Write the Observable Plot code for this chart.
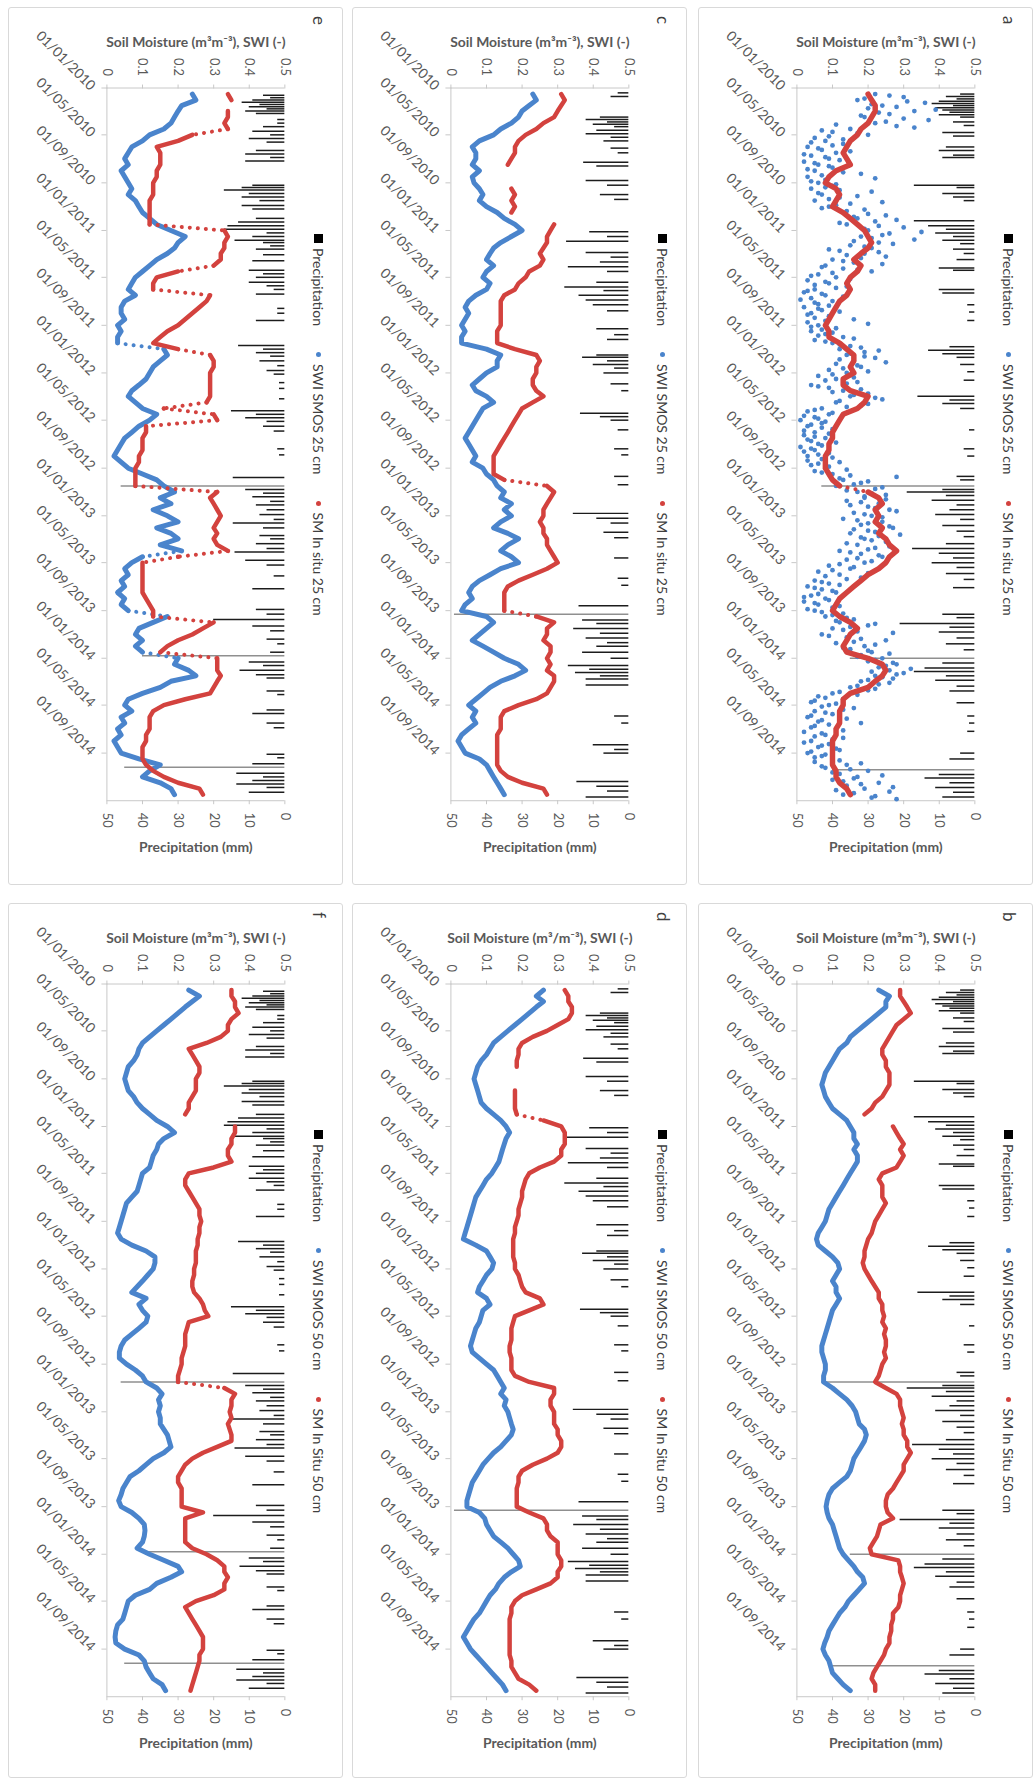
<!DOCTYPE html>
<html><head><meta charset="utf-8">
<script src="https://cdn.jsdelivr.net/npm/d3@7"></script>
<script src="https://cdn.jsdelivr.net/npm/@observablehq/plot@0.6"></script>
<style>
body{margin:0;background:#fff;font-family:Lato,"Open Sans",sans-serif}
#page{position:relative;width:1035px;height:1780px;overflow:hidden;background:#fff}
.panel{position:absolute;width:335px;height:878px;border:1px solid #d9d9d9;border-radius:3px;box-sizing:border-box;background:#fff}
.panel svg{position:absolute;left:-1px;top:-1px;overflow:visible}
.legend{position:absolute;transform:rotate(90deg);transform-origin:0 0;white-space:nowrap;display:flex;align-items:center;height:18px;font-size:14px;color:#404040}
.legend .sq{display:inline-block;width:9px;height:9px;background:#000;margin-right:5px}
.legend .dt{display:inline-block;width:5px;height:5px;border-radius:50%;margin-left:26px;margin-right:7px}
.letter{position:absolute;transform:rotate(90deg);transform-origin:0 0;font-size:17px;color:#404040;line-height:18px}
</style></head><body><div id="page"></div>
<script>
// ---------- data (months since 01/01/2010, semi-monthly grid t = 0, 0.5, ... 59.5) ----------
const eSWI = [null,0.24,0.25,0.21,0.2,0.19,0.18,0.16,0.12,0.1,0.07,0.06,
0.05,0.06,0.04,0.05,0.06,0.07,0.06,0.08,0.09,0.1,0.12,0.14,
0.18,0.22,0.2,0.19,0.17,0.14,0.12,0.1,0.08,0.07,0.06,0.08,
0.05,0.04,0.04,0.05,0.03,0.04,0.03,0.03,0.16,0.17,0.15,0.13,
0.12,0.11,0.09,0.07,0.06,0.08,0.1,0.14,0.12,0.09,0.07,0.05,
0.04,0.03,0.02,0.04,0.06,0.1,0.14,0.16,0.19,0.15,0.18,0.13,
0.17,0.2,0.14,0.18,0.2,0.15,0.21,0.1,0.07,0.05,0.06,0.04,
0.05,0.03,0.05,0.04,0.06,0.17,0.13,0.09,0.08,0.1,0.08,0.1,
0.2,0.19,0.23,0.25,0.18,0.15,0.1,0.06,0.05,0.07,0.04,0.05,
0.03,0.04,0.02,0.03,0.04,0.09,0.15,0.12,0.1,0.15,0.18,0.19];
const eSM = [null,0.34,0.35,null,0.34,0.34,0.33,0.34,0.24,0.2,0.14,0.15,
0.15,0.15,0.14,0.14,0.13,0.13,0.13,0.12,0.12,0.12,0.12,0.12,
0.33,0.34,0.33,0.33,0.32,0.32,0.3,0.2,0.14,0.13,0.13,0.29,
0.28,0.26,0.24,0.22,0.2,0.17,0.15,0.13,0.2,0.29,0.3,0.3,
0.29,0.29,0.29,0.29,0.29,0.28,0.16,0.3,0.31,0.11,0.11,0.1,
0.1,0.1,0.09,0.09,0.08,0.08,0.08,0.08,0.31,0.29,0.3,0.31,
0.32,0.31,0.3,0.31,0.3,0.31,0.34,0.2,0.1,0.1,0.1,0.1,
0.1,0.1,0.11,0.12,0.13,0.13,0.3,0.27,0.24,0.2,0.17,0.15,
0.31,0.31,0.31,0.32,0.31,0.3,0.29,0.22,0.16,0.13,0.12,0.12,
0.12,0.11,0.11,0.1,0.1,0.1,0.11,0.13,0.16,0.2,0.26,0.27];
const cSWI = [null,0.23,0.24,0.22,0.2,0.19,0.17,0.14,0.12,0.08,0.06,0.07,
0.07,0.06,0.08,0.06,0.065,0.08,0.09,0.08,0.1,0.13,0.15,0.18,
0.2,0.17,0.14,0.12,0.11,0.1,0.12,0.1,0.09,0.11,0.1,0.07,
0.05,0.04,0.05,0.04,0.03,0.04,0.03,0.03,0.1,0.14,0.13,0.13,
0.1,0.08,0.06,0.07,0.1,0.12,0.09,0.08,0.07,0.06,0.05,0.04,
0.05,0.06,0.07,0.06,0.09,0.1,0.12,0.13,0.15,0.14,0.17,0.15,
0.17,0.14,0.12,0.16,0.19,0.16,0.14,0.17,0.19,0.14,0.11,0.08,
0.06,0.05,0.06,0.04,0.03,0.1,0.12,0.1,0.08,0.06,0.09,0.12,
0.15,0.19,0.21,0.18,0.14,0.11,0.09,0.07,0.05,0.07,0.06,0.07,
0.05,0.03,0.02,0.03,0.04,0.08,0.1,0.11,0.12,0.13,0.14,0.15];
const cSM = [null,0.31,0.32,0.31,0.3,0.29,0.26,0.24,0.21,0.19,0.18,0.18,
0.17,0.16,null,null,null,0.17,0.18,0.17,0.18,0.17,null,0.29,
0.28,0.27,0.27,0.26,0.25,0.26,0.25,0.22,0.21,0.19,0.18,0.15,
0.14,0.14,0.14,0.14,0.14,0.13,0.13,0.13,0.18,0.24,0.25,0.24,
0.24,0.23,0.23,0.24,0.26,0.23,0.2,0.19,0.18,0.17,0.16,0.15,
0.14,0.13,0.12,0.12,0.12,0.12,0.15,0.27,0.29,0.28,0.27,0.26,
0.26,0.25,0.26,0.26,0.27,0.27,0.28,0.29,0.3,0.27,0.23,0.19,
0.16,0.15,0.15,0.15,0.15,0.24,0.29,0.27,0.27,0.26,0.28,0.28,
0.27,0.28,0.27,0.29,0.29,0.28,0.27,0.24,0.19,0.15,0.14,0.14,
0.14,0.13,0.13,0.13,0.13,0.13,0.13,0.14,0.16,0.2,0.26,0.27];
const aSM = [null,0.2,0.21,0.22,0.22,0.21,0.2,0.18,0.17,0.15,0.14,0.13,
0.14,0.15,0.11,0.09,0.08,0.11,0.12,0.11,0.1,0.13,0.15,0.17,
0.19,0.2,0.21,0.2,0.18,0.16,0.18,0.17,0.15,0.14,0.15,0.14,
0.12,0.11,0.1,0.09,0.08,0.09,0.09,0.12,0.14,0.16,0.16,0.15,
0.16,0.13,0.13,0.15,0.2,0.19,0.17,0.13,0.12,0.11,0.1,0.1,
0.09,0.09,0.08,0.08,0.08,0.09,0.1,0.12,0.2,0.23,0.24,0.22,
0.23,0.22,0.24,0.23,0.25,0.26,0.28,0.26,0.25,0.23,0.2,0.18,
0.16,0.14,0.12,0.11,0.1,0.12,0.15,0.17,0.15,0.14,0.13,0.14,
0.2,0.24,0.25,0.24,0.22,0.2,0.15,0.13,0.13,0.12,0.12,0.12,
0.11,0.11,0.1,0.1,0.1,0.1,0.1,0.11,0.11,0.12,0.14,0.15];
// panel a SWI is scattered: two sets of weekly readings, t = 0.5, 0.75, ... and t = 0.625, 0.875, ...
const aSWIdots = [0.22,0.3,0.17,0.36,0.24,0.2,0.33,0.26,
0.19,0.37,0.22,0.28,0.15,0.1,0.2,0.05,
0.08,0.13,0.03,0.07,0.11,0.04,0.09,0.02,
0.06,0.1,0.05,0.18,0.03,0.08,0.06,0.1,
0.04,0.21,0.07,0.12,0.05,0.15,0.09,0.19,
0.13,0.25,0.17,0.22,0.14,0.3,0.2,0.26,
0.18,0.33,0.23,0.15,0.21,0.12,0.19,0.25,
0.1,0.16,0.08,0.13,0.21,0.06,0.11,0.03,
0.09,0.14,0.05,0.02,0.08,0.04,0.1,0.06,
0.02,0.07,0.04,0.09,0.16,0.03,0.06,0.11,
0.04,0.08,0.13,0.05,0.1,0.15,0.12,0.19,
0.14,0.22,0.16,0.11,0.18,0.09,0.14,0.06,
0.11,0.17,0.04,0.09,0.13,0.2,0.15,0.24,
0.11,0.18,0.07,0.03,0.09,0.05,0.01,0.07,
0.03,0.1,0.05,0.02,0.08,0.04,0.06,0.01,
0.05,0.09,0.03,0.07,0.12,0.04,0.08,0.05,
0.1,0.28,0.13,0.18,0.11,0.22,0.17,0.25,
0.19,0.14,0.23,0.2,0.26,0.16,0.21,0.13,
0.24,0.18,0.27,0.2,0.15,0.23,0.19,0.25,
0.17,0.22,0.12,0.18,0.24,0.14,0.19,0.09,
0.15,0.06,0.12,0.18,0.05,0.09,0.03,0.07,
0.11,0.04,0.08,0.02,0.06,0.1,0.05,0.13,
0.08,0.16,0.12,0.2,0.1,0.17,0.07,0.14,
0.25,0.11,0.19,0.15,0.21,0.18,0.24,0.2,
0.28,0.23,0.26,0.3,0.22,0.27,0.18,0.23,
0.15,0.2,0.1,0.06,0.13,0.04,0.09,0.16,
0.05,0.1,0.03,0.07,0.18,0.05,0.11,0.02,
0.08,0.13,0.04,0.09,0.06,0.12,0.03,0.07,
0.1,0.05,0.14,0.08,0.2,0.12,0.17,0.1,
0.23,0.14,0.19,0.26,0.13,0.21];
const aSWIdots2 = [0.26,0.19,0.31,0.21,0.28,0.39,0.23,0.18,
0.3,0.25,0.11,0.33,0.07,0.17,0.09,0.13,
0.04,0.1,0.06,0.15,0.02,0.08,0.12,0.05,
0.09,0.03,0.13,0.07,0.22,0.04,0.11,0.08,
0.12,0.06,0.17,0.09,0.24,0.11,0.07,0.14,
0.2,0.16,0.28,0.12,0.23,0.19,0.35,0.24,
0.21,0.16,0.27,0.19,0.09,0.23,0.14,0.18,
0.13,0.24,0.07,0.17,0.1,0.04,0.15,0.08,
0.05,0.11,0.03,0.07,0.13,0.01,0.05,0.09,
0.06,0.12,0.03,0.05,0.08,0.2,0.04,0.07,
0.1,0.06,0.16,0.08,0.12,0.18,0.23,0.15,
0.19,0.12,0.25,0.17,0.13,0.2,0.1,0.16,
0.08,0.14,0.06,0.18,0.1,0.16,0.22,0.12,
0.2,0.14,0.05,0.1,0.02,0.06,0.08,0.04,
0.07,0.02,0.09,0.05,0.03,0.11,0.07,0.04,
0.02,0.06,0.1,0.03,0.06,0.09,0.14,0.07,
0.15,0.12,0.2,0.16,0.24,0.14,0.21,0.19,
0.25,0.18,0.15,0.22,0.28,0.19,0.24,0.17,
0.2,0.26,0.16,0.22,0.29,0.18,0.21,0.14,
0.26,0.2,0.15,0.23,0.17,0.21,0.12,0.16,
0.1,0.2,0.08,0.14,0.07,0.12,0.05,0.1,
0.06,0.02,0.09,0.05,0.12,0.03,0.07,0.1,
0.14,0.11,0.22,0.15,0.13,0.27,0.09,0.18,
0.16,0.22,0.13,0.2,0.26,0.17,0.22,0.27,
0.25,0.32,0.21,0.28,0.24,0.2,0.26,0.17,
0.22,0.12,0.17,0.08,0.05,0.11,0.07,0.13,
0.08,0.04,0.14,0.06,0.09,0.04,0.13,0.07,
0.05,0.1,0.02,0.07,0.11,0.04,0.08,0.05,
0.12,0.18,0.07,0.15,0.1,0.24,0.16,0.13,
0.18,0.27,0.11,0.16,0.22,0.28];
const bSWI = [null,0.23,0.26,0.25,0.25,0.23,0.21,0.19,0.17,0.15,0.14,0.12,
0.11,0.1,0.09,0.08,0.075,0.07,0.075,0.08,0.09,0.1,0.12,0.14,
0.15,0.16,0.16,0.17,0.16,0.17,0.17,0.16,0.15,0.14,0.13,0.12,
0.11,0.1,0.09,0.085,0.08,0.07,0.06,0.055,0.06,0.08,0.1,0.115,
0.12,0.11,0.1,0.11,0.11,0.12,0.11,0.1,0.095,0.09,0.085,0.08,
0.075,0.07,0.07,0.075,0.08,0.08,0.075,0.075,0.1,0.12,0.14,0.155,
0.165,0.17,0.175,0.19,0.195,0.19,0.18,0.17,0.16,0.155,0.15,0.14,
0.12,0.1,0.09,0.085,0.082,0.085,0.09,0.1,0.105,0.11,0.115,0.12,
0.13,0.145,0.16,0.17,0.185,0.19,0.175,0.16,0.145,0.135,0.12,0.11,
0.1,0.09,0.085,0.078,0.073,0.08,0.09,0.095,0.1,0.115,0.13,0.15];
const bSM = [null,0.29,0.29,0.3,0.31,0.32,0.3,0.28,0.27,0.26,0.25,0.24,
0.24,0.25,0.25,0.26,0.26,0.26,0.25,0.24,0.22,0.21,0.19,null,
0.27,0.28,0.29,0.3,0.29,0.3,0.29,0.28,0.24,0.23,0.24,0.24,
0.24,0.25,0.24,0.23,0.22,0.215,0.21,0.2,0.195,0.19,0.19,0.185,
0.19,0.2,0.21,0.22,0.23,0.23,0.24,0.24,0.245,0.24,0.25,0.245,
0.25,0.25,0.245,0.25,0.24,0.235,0.23,0.22,0.25,0.28,0.29,0.29,
0.295,0.3,0.295,0.3,0.3,0.31,0.31,0.32,0.31,0.3,0.3,0.29,
0.28,0.27,0.255,0.25,0.25,0.255,0.27,0.235,0.23,0.225,0.215,0.205,
0.21,0.285,0.29,0.29,0.295,0.3,0.295,0.29,0.29,0.285,0.27,0.27,
0.265,0.265,0.26,0.26,0.25,0.245,0.235,0.225,0.215,0.21,0.22,0.22];
const dSWI = [null,0.26,0.24,0.26,0.24,0.22,0.2,0.18,0.16,0.14,0.12,0.11,
0.1,0.085,0.075,0.07,0.065,0.07,0.075,0.08,0.085,0.1,0.12,0.14,
0.155,0.165,0.155,0.15,0.145,0.14,0.135,0.125,0.115,0.1,0.09,0.08,
0.07,0.065,0.06,0.055,0.05,0.045,0.04,0.035,0.07,0.1,0.11,0.12,
0.115,0.1,0.09,0.08,0.075,0.1,0.11,0.09,0.085,0.08,0.07,0.065,
0.06,0.055,0.06,0.08,0.1,0.12,0.13,0.14,0.15,0.14,0.155,0.15,
0.16,0.165,0.17,0.175,0.17,0.155,0.14,0.12,0.105,0.09,0.08,0.07,
0.06,0.055,0.05,0.045,0.045,0.08,0.095,0.1,0.11,0.12,0.14,0.16,
0.175,0.19,0.195,0.17,0.15,0.135,0.125,0.11,0.1,0.09,0.08,0.065,
0.055,0.045,0.035,0.045,0.055,0.07,0.085,0.1,0.115,0.13,0.145,0.155];
const dSM = [null,0.32,0.33,0.33,0.34,0.34,0.33,0.3,0.27,0.23,0.2,0.19,
0.19,0.185,0.185,null,null,null,0.18,0.18,0.18,0.18,0.185,0.26,
0.31,0.32,0.32,0.32,0.31,0.31,0.29,0.25,0.22,0.21,0.205,0.2,
0.2,0.195,0.19,0.19,0.185,0.18,0.18,0.175,0.175,0.175,0.175,0.18,
0.18,0.19,0.195,0.2,0.21,0.25,0.26,0.22,0.18,0.175,0.17,0.17,
0.17,0.165,0.165,0.17,0.17,0.17,0.18,0.22,0.29,0.29,0.28,0.28,
0.29,0.29,0.29,0.3,0.3,0.31,0.31,0.3,0.27,0.23,0.2,0.19,
0.19,0.185,0.185,0.185,0.185,0.22,0.26,0.27,0.27,0.28,0.3,0.3,
0.3,0.31,0.31,0.3,0.3,0.28,0.24,0.2,0.18,0.17,0.17,0.165,
0.165,0.165,0.165,0.165,0.165,0.165,0.17,0.17,0.18,0.19,0.22,0.24];
const fSWI = [null,0.23,0.26,0.24,0.22,0.2,0.18,0.16,0.14,0.12,0.1,0.09,
0.085,0.075,0.06,0.055,0.05,0.055,0.06,0.075,0.085,0.1,0.12,0.14,
0.17,0.19,0.16,0.145,0.14,0.13,0.125,0.12,0.1,0.095,0.09,0.085,
0.07,0.055,0.05,0.045,0.04,0.035,0.03,0.04,0.07,0.11,0.135,0.135,
0.13,0.115,0.1,0.085,0.07,0.11,0.09,0.1,0.115,0.11,0.09,0.07,
0.05,0.04,0.035,0.035,0.055,0.08,0.1,0.11,0.14,0.155,0.145,0.15,
0.145,0.15,0.15,0.16,0.17,0.175,0.18,0.16,0.13,0.11,0.09,0.065,
0.055,0.045,0.04,0.033,0.04,0.07,0.09,0.105,0.107,0.105,0.1,0.085,
0.12,0.16,0.2,0.21,0.18,0.14,0.12,0.08,0.06,0.055,0.05,0.045,
0.03,0.025,0.023,0.025,0.05,0.09,0.105,0.11,0.12,0.13,0.155,0.165];
const fSM = [null,0.35,0.35,0.36,0.36,0.37,0.35,0.34,0.34,0.32,0.28,0.23,
0.24,0.25,0.26,0.26,0.25,0.25,0.25,0.24,0.23,0.23,0.22,null,
0.36,0.36,0.35,0.35,0.34,0.34,0.35,0.3,0.23,0.22,0.22,0.23,
0.24,0.25,0.26,0.26,0.265,0.26,0.26,0.255,0.255,0.25,0.25,0.25,
0.245,0.245,0.24,0.24,0.245,0.26,0.27,0.275,0.285,0.23,0.225,0.22,
0.22,0.22,0.215,0.21,0.21,0.205,0.2,0.2,0.33,0.36,0.35,0.35,
0.345,0.35,0.34,0.345,0.35,0.35,0.31,0.27,0.24,0.22,0.21,0.2,
0.2,0.21,0.21,0.21,0.21,0.27,0.22,0.22,0.22,0.22,0.22,0.24,
0.28,0.31,0.33,0.33,0.34,0.33,0.33,0.3,0.25,0.22,0.23,0.24,
0.25,0.26,0.27,0.27,0.27,0.26,0.26,0.255,0.25,0.245,0.24,0.235];
// precipitation events: [months since 01/01/2010, mm]
const precipAB = [[0.5,4],[0.7,8],[0.9,5],[1.1,10],[1.3,12],[1.5,6],[1.7,11],[1.9,9],[2.1,7],[2.3,10],[2.5,4],[2.9,6],[3.2,3],[3.8,9],[4.1,6],[5.0,8],[5.3,10],[5.7,6],[5.9,9],[8.2,17],[8.4,5],[8.9,9],[9.2,6],[9.5,3],[11.2,17],[11.6,13],[11.9,8],[12.2,11],[12.5,6],[12.8,9],[13.1,4],[13.6,6],[14.0,3],[14.5,5],[15.2,10],[15.4,6],[17.0,10],[17.3,9],[18.3,2],[18.9,1.5],[19.6,2],[21.8,7],[22.1,13],[22.4,9],[22.7,5],[23.3,4],[23.9,2],[24.6,3],[26.0,16],[26.3,7],[26.6,9],[27.0,4],[28.8,1.5],[30.4,3],[31.0,2],[32.7,5],[33.0,4],[33.5,43],[33.8,9],[34.0,19],[34.3,8],[34.7,12],[35.1,5],[35.5,7],[35.9,11],[36.3,4],[36.8,9],[37.3,5],[37.8,3],[38.4,8],[38.8,17.5],[39.2,10],[39.6,6],[40.0,12],[40.4,5],[40.9,8],[41.4,3],[42.1,6],[44.3,9],[44.6,5],[45.1,21],[45.4,7],[45.8,10],[46.3,5],[46.8,8],[47.3,3],[48.0,35],[48.4,9],[48.8,14],[49.1,17],[49.5,8],[49.9,11],[50.4,5],[50.8,7],[51.8,5],[52.9,2],[53.5,1.5],[54.2,2],[56.0,4],[56.5,7],[57.4,40],[57.8,10],[58.1,14],[58.5,7],[58.9,11],[59.3,6],[59.7,9]];
const precipCD = [[0.4,3],[0.7,5],[2.5,8],[2.7,12],[2.9,6],[3.1,10],[3.3,4],[3.6,9],[3.9,12],[4.2,5],[4.5,7],[5.1,5],[5.5,3],[6.3,12.7],[6.6,9],[7.8,12],[8.2,6],[9.0,8],[9.4,4],[12.1,11],[12.5,6],[12.9,17.5],[13.9,12],[14.3,5],[14.7,8],[15.1,17],[15.5,6],[16.4,9],[16.8,18],[17.1,7],[17.5,14],[17.9,12],[18.3,10],[18.8,6],[20.3,9],[20.8,4],[21.2,6],[22.5,9],[22.7,13],[23.0,6],[23.3,10],[23.6,4],[24.0,7],[24.9,5],[25.5,2],[27.4,13.6],[27.7,8],[28.0,5],[28.8,3],[30.4,4],[30.9,2],[32.7,4],[33.4,3],[35.8,15.6],[36.2,9],[36.6,5],[37.4,7],[37.9,4],[39.6,4],[41.3,3],[41.9,2],[43.6,14],[44.3,49],[44.8,13],[45.1,9],[45.5,15.5],[45.9,8],[46.3,12],[46.7,6],[47.0,9],[47.5,13],[48.0,5],[48.6,17],[48.9,11],[49.2,15],[49.5,8],[49.8,12],[50.3,12],[52.9,4],[53.5,2],[55.3,10],[55.7,4],[56.0,7],[58.4,14.6],[58.8,9],[59.2,6],[59.7,12]];
const precipEF = [[0.6,6],[0.8,4],[1.0,9],[1.2,12],[1.4,7],[1.6,10],[1.8,5],[2.0,11],[2.2,8],[2.7,2],[3.0,2],[3.3,6],[3.7,9],[4.0,4],[4.3,10],[4.6,5],[5.3,8],[5.6,11],[5.9,4],[6.2,11],[8.2,9],[8.4,12],[8.6,17],[8.9,10],[9.2,12],[9.5,7],[9.9,12],[10.2,9],[11.0,8],[11.3,13],[11.6,16],[11.9,17],[12.2,5],[12.5,9],[12.8,14],[13.0,6],[13.3,4],[13.6,8],[14.1,6],[14.6,9],[15.4,10],[15.7,6],[16.0,8],[16.4,10],[16.7,5],[17.0,3],[17.4,8],[18.6,2],[19.0,2],[19.6,8],[21.7,13],[22.0,6],[22.3,8],[22.6,4],[23.0,7],[23.4,2],[23.8,5],[24.1,3],[24.8,1.5],[25.3,1.5],[26.2,1.5],[27.2,15],[27.5,8],[27.8,11],[28.1,5],[28.5,6],[28.9,3],[30.4,2],[30.9,1.5],[32.8,14.5],[33.5,46],[33.8,11],[34.1,6],[34.4,9],[34.8,4],[35.1,8],[35.5,5],[35.9,7],[36.3,3],[36.6,14.5],[37.0,6],[37.7,7],[38.0,4],[38.4,8],[38.8,5],[39.1,14],[39.8,11],[40.2,5],[41.1,3],[42.2,9],[43.9,8],[44.3,5],[44.75,20],[45.3,9],[45.7,4],[46.4,5],[46.8,2],[47.5,4],[47.8,40],[48.3,10],[48.6,6],[49.0,12.6],[49.4,8],[49.7,5],[50.8,5],[51.1,2],[52.4,5],[52.7,9],[53.5,5],[53.9,3],[56.1,5],[56.4,2],[56.9,9],[57.2,45],[57.7,13.5],[58.0,6],[58.3,9],[58.6,13.5],[58.9,5],[59.3,10]];
const smTicks = [0, 0.1, 0.2, 0.3, 0.4, 0.5];
const precipTicks = [50, 40, 30, 20, 10, 0];
const panelLetters = ["e", "c", "a", "f", "d", "b"];

// ---------- helpers ----------
const START = new Date(Date.UTC(2010, 0, 1)), END = new Date(Date.UTC(2015, 0, 1));
function tDate(t) {
  const m = Math.floor(t), f = t - m;
  const d0 = Date.UTC(2010, m, 1), d1 = Date.UTC(2010, m + 1, 1);
  return new Date(d0 + f * (d1 - d0));
}
const dateTicks = d3.utcMonth.every(4).range(START, new Date(Date.UTC(2014, 8, 2)));
const BLUE = "#4a84cc", RED = "#d3423e";
const JUMP = 0.075;
// split a semi-monthly series into continuous runs (z) and big jumps (drawn dotted)
function series(vals) {
  const pts = [], jumps = [];
  let seg = 0;
  vals.forEach((v, i) => {
    const prev = i > 0 ? vals[i - 1] : null;
    const d = {date: tDate(i / 2), v, seg};
    if (prev != null && v != null && Math.abs(v - prev) > JUMP) {
      seg++;
      d.seg = seg;
      jumps.push({date: tDate((i - 1) / 2), v: prev, k: i}, {date: d.date, v, k: i});
    }
    pts.push(d);
  });
  return {pts, jumps};
}

function makePanel(cfg) {
  const sm = series(cfg.sm);
  const rain = cfg.precip.map(([t, mm]) => ({date: tDate(t), mm}));
  const swiMarks = [];
  if (cfg.swiDots) {
    const dots = cfg.swiDots.map((x, i) => ({date: tDate(0.5 + i * 0.25), v: x}))
      .concat(cfg.swiDots2.map((x, i) => ({date: tDate(0.625 + i * 0.25), v: x})));
    swiMarks.push(Plot.dot(dots, {x: "v", y: "date", r: 2.4, fill: BLUE}));
  } else {
    const s = series(cfg.swi);
    swiMarks.push(
      Plot.line(s.pts, {x: "v", y: "date", z: "seg", stroke: BLUE, strokeWidth: 5}),
      Plot.line(s.jumps, {x: "v", y: "date", z: "k", stroke: BLUE, strokeWidth: 4, strokeDasharray: "0.1 8", strokeLinecap: "round"})
    );
  }
  const w = cfg.swiDots ? 5.5 : 4.5;
  return Plot.plot({
    width: 335, height: 878,
    marginTop: 81, marginLeft: 99, marginRight: 57, marginBottom: 80,
    style: {fontFamily: "Lato, 'Open Sans', sans-serif", fontSize: "13px", color: "#595959", background: "transparent", overflow: "visible"},
    x: {domain: [0, 0.5]},
    y: {type: "utc", domain: [START, END], reverse: true},
    marks: [
      Plot.ruleY(rain, {y: "date", x1: 0.5, x2: d => 0.5 - d.mm / 100, stroke: d => d.mm > 25 ? "#8f8f8f" : "#1c1c1c", strokeWidth: 1.5}),
      Plot.ruleX([0], {stroke: "#c8c8c8"}),
      Plot.ruleY([START, END], {stroke: "#c8c8c8"}),
      ...swiMarks,
      Plot.line(sm.pts, {x: "v", y: "date", z: "seg", stroke: RED, strokeWidth: w}),
      Plot.line(sm.jumps, {x: "v", y: "date", z: "k", stroke: RED, strokeWidth: 4, strokeDasharray: "0.1 8", strokeLinecap: "round"}),
      Plot.axisX({anchor: "top", ticks: smTicks, tickFormat: d => d === 0 ? "0" : d.toFixed(1), tickRotate: 90, tickSize: 4, tickPadding: 8, stroke: "#c8c8c8", fill: "#595959", fontSize: 13, label: null}),
      Plot.axisX({anchor: "bottom", ticks: precipTicks.map(p => 0.5 - p / 100), tickFormat: v => String(Math.round(50 - v * 100)), tickRotate: 90, tickSize: 4, tickPadding: 8, stroke: "#c8c8c8", fill: "#595959", fontSize: 13, label: null}),
      Plot.axisY({anchor: "left", ticks: dateTicks, tickFormat: d3.utcFormat("%d/%m/%Y"), tickRotate: 45, tickSize: 5, tickPadding: 9, stroke: "#c8c8c8", fill: "#595959", fontSize: 14, label: null}),
      Plot.text([cfg.title], {frameAnchor: "top", dy: -51, fontWeight: "bold", fontSize: 14, fill: "#595959"}),
      Plot.text(["Precipitation (mm)"], {frameAnchor: "bottom", dy: 52, fontWeight: "bold", fontSize: 14, fill: "#595959"})
    ]
  });
}

const T1 = "Soil Moisture (m\u00b3m\u207b\u00b3), SWI (-)";
const T2 = "Soil Moisture (m\u00b3/m\u207b\u00b3), SWI (-)";
const panels = [
  {letter: panelLetters[0], left: 8,   top: 7,   swi: eSWI, sm: eSM, precip: precipEF, title: T1, l2: "SWI SMOS 25 cm", l3: "SM In situ 25 cm"},
  {letter: panelLetters[1], left: 352, top: 7,   swi: cSWI, sm: cSM, precip: precipCD, title: T1, l2: "SWI SMOS 25 cm", l3: "SM In situ 25 cm"},
  {letter: panelLetters[2], left: 698, top: 7,   swiDots: aSWIdots, swiDots2: aSWIdots2, sm: aSM, precip: precipAB, title: T1, l2: "SWI SMOS 25 cm", l3: "SM In situ 25 cm"},
  {letter: panelLetters[3], left: 8,   top: 903, swi: fSWI, sm: fSM, precip: precipEF, title: T1, l2: "SWI SMOS 50 cm", l3: "SM In Situ 50 cm"},
  {letter: panelLetters[4], left: 352, top: 903, swi: dSWI, sm: dSM, precip: precipCD, title: T2, l2: "SWI SMOS 50 cm", l3: "SM In Situ 50 cm"},
  {letter: panelLetters[5], left: 698, top: 903, swi: bSWI, sm: bSM, precip: precipAB, title: T1, l2: "SWI SMOS 50 cm", l3: "SM In Situ 50 cm"}
];

const page = document.getElementById("page");
for (const p of panels) {
  const box = document.createElement("div");
  box.className = "panel";
  box.style.left = p.left + "px";
  box.style.top = p.top + "px";
  box.style.height = (p.top > 100 ? 875 : 878) + "px";
  box.appendChild(makePanel(p));
  const lg = document.createElement("div");
  lg.className = "legend";
  lg.style.left = "319px"; lg.style.top = "226px";
  lg.innerHTML = `<span class="sq"></span><span>Precipitation</span><span class="dt" style="background:${BLUE}"></span><span>${p.l2}</span><span class="dt" style="background:${RED}"></span><span>${p.l3}</span>`;
  box.appendChild(lg);
  const lt = document.createElement("div");
  lt.className = "letter";
  lt.style.left = "319px"; lt.style.top = "8px";
  lt.textContent = p.letter;
  box.appendChild(lt);
  page.appendChild(box);
}
</script></body></html>
